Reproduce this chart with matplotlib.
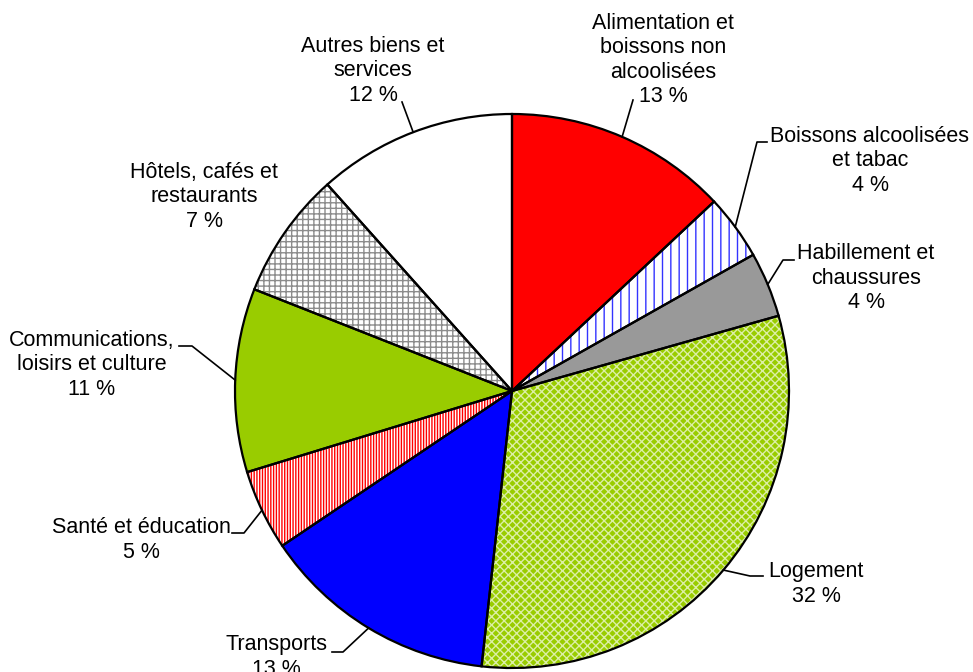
import numpy as np
import matplotlib
matplotlib.use("Agg")
import matplotlib.pyplot as plt
from matplotlib.lines import Line2D

plt.rcParams['font.family'] = ['Liberation Sans', 'DejaVu Sans']
plt.rcParams['hatch.linewidth'] = 1.0

# parts du budget (en %)
postes = ["Alimentation et\nboissons non\nalcoolisées",
          "Boissons alcoolisées\net tabac",
          "Habillement et\nchaussures",
          "Logement",
          "Transports",
          "Santé et éducation",
          "Communications,\nloisirs et culture",
          "Hôtels, cafés et\nrestaurants",
          "Autres biens et\nservices"]
parts = [13.0, 3.8, 3.8, 31.1, 13.8, 4.7, 10.7, 7.4, 11.6]
etiquettes = ["13 %", "4 %", "4 %", "32 %", "13 %", "5 %", "11 %", "7 %", "12 %"]

couleurs = ["#ff0000", "#ffffff", "#999999", "#99cc00", "#0000ff",
            "#ffffff", "#99cc00", "#ffffff", "#ffffff"]
hachures = [None, "||", None, "xxxx", None, "||||||", None, "+++", None]
coul_hach = ["#ff0000", "#3333ff", "#999999", "#dcefa6", "#0000ff",
             "#ff0000", "#99cc00", "#8c8c8c", "#ffffff"]

# mise en page (pixels, origine en haut à gauche)
W, H = 973, 672
cx, cy, r = 512, 391, 277
pos_txt = [(663, 60), (870, 161), (866, 278), (816, 584), (276, 657),
           (141, 540), (92, 365), (204, 197), (373, 71)]
coudes = [[(633, 100)], [(757, 142), (767, 142)], [(783, 260), (794, 260)],
          [(750, 576), (763, 576)], [(343, 652), (332, 652)],
          [(244, 533), (232, 533)], [(192, 346), (179, 346)], None,
          [(402, 102)]]

fig = plt.figure(figsize=(W / 100, H / 100), dpi=100)
ax = fig.add_axes([(cx - r) / W, (H - cy - r) / H, 2 * r / W, 2 * r / H])

wedges, _ = ax.pie(parts, colors=couleurs, startangle=90, counterclock=False,
                   radius=1, wedgeprops=dict(linewidth=0))
for w, h, hc in zip(wedges, hachures, coul_hach):
    w.set_edgecolor(hc)
    if h:
        w.set_hatch(h)
ax.pie(parts, startangle=90, counterclock=False, radius=1,
       wedgeprops=dict(fill=False, edgecolor="black", linewidth=1.6))
ax.set_xlim(-1, 1)
ax.set_ylim(-1, 1)
ax.axis("off")


def fx(p):
    return p[0] / W, 1 - p[1] / H


for w, nom, lab, pt, cd in zip(wedges, postes, etiquettes, pos_txt, coudes):
    x, y = fx(pt)
    fig.text(x, y, nom + "\n" + lab, ha="center", va="center",
             multialignment="center", fontsize=15.5, color="black")
    if cd:
        a = np.deg2rad((w.theta1 + w.theta2) / 2)
        ancre = (cx + r * np.cos(a), cy - r * np.sin(a))
        pts = [fx(ancre)] + [fx(p) for p in cd]
        fig.add_artist(Line2D([p[0] for p in pts], [p[1] for p in pts],
                              color="black", linewidth=1.2,
                              transform=fig.transFigure))

fig.savefig("out.png", dpi=100)
